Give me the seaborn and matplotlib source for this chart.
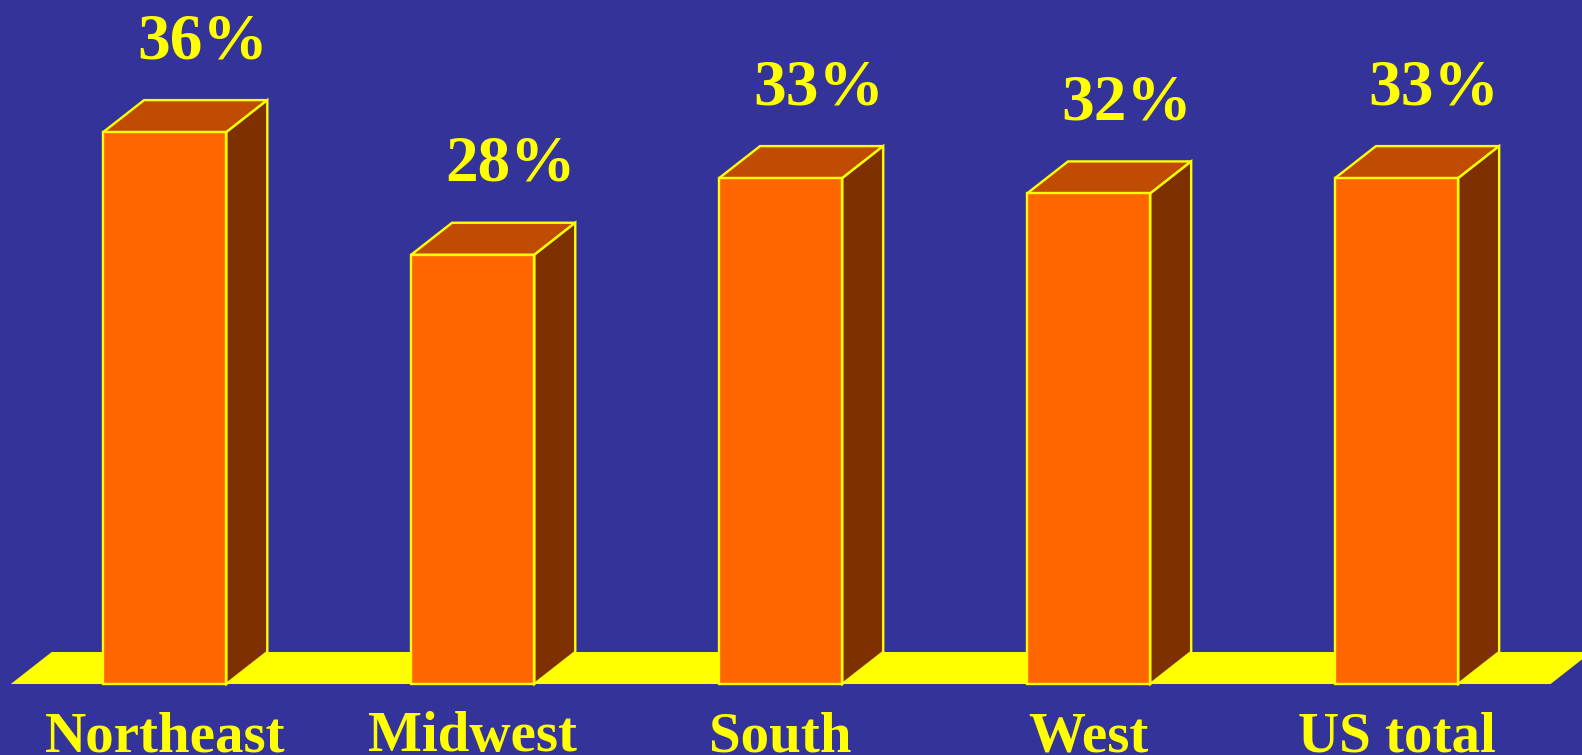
import numpy as np
import pandas as pd
import matplotlib
matplotlib.use("Agg")
import matplotlib.pyplot as plt
from matplotlib.patches import Polygon
import seaborn as sns

# datos
regions = ["Northeast", "Midwest", "South", "West", "US total"]
shares = [36, 28, 33, 32, 33]
share_labels = ["36%", "28%", "33%", "32%", "33%"]

df = pd.DataFrame({"region": regions, "share": shares})

# colores
bg = "#333399"
front = "#FF6600"
top = "#BF4C00"
side = "#7F3000"
yellow = "#FFFF00"

# profundidad del efecto 3D (unidades de datos)
dx = 0.133
dy = 2.09

fig = plt.figure(figsize=(15.82, 7.55), dpi=100, facecolor=bg)
ax = fig.add_axes([0, 0, 1, 1])
ax.set_facecolor(bg)

sns.barplot(data=df, x="region", y="share", width=0.4, color=front,
            saturation=1, edgecolor=yellow, linewidth=1.7, ax=ax, zorder=3)

ax.set_xlim(-0.535, 4.602)
ax.set_ylim(-4.63, 44.62)
ax.axis("off")

# piso amarillo
n = len(regions)
x0, x1 = -0.5, n - 0.5
floor = Polygon([(x0, 0), (x1, 0), (x1 + dx, dy), (x0 + dx, dy)],
                closed=True, facecolor=yellow, edgecolor="none", zorder=1)
ax.add_patch(floor)

# caras superior y lateral
for p, lab in zip(ax.patches[:n], share_labels):
    xl = p.get_x()
    xr = xl + p.get_width()
    h = p.get_height()
    t = Polygon([(xl, h), (xr, h), (xr + dx, h + dy), (xl + dx, h + dy)],
                closed=True, facecolor=top, edgecolor=yellow, linewidth=1.7, zorder=2)
    s = Polygon([(xr, 0), (xr + dx, dy), (xr + dx, h + dy), (xr, h)],
                closed=True, facecolor=side, edgecolor=yellow, linewidth=1.7, zorder=2)
    ax.add_patch(t)
    ax.add_patch(s)
    ax.text(xl + p.get_width() / 2 + 0.122, h + dy + 2.74, lab,
            ha="center", va="baseline", color=yellow, fontsize=47,
            fontweight="bold", family="Liberation Serif", zorder=4)

for i, r in enumerate(regions):
    ax.text(i, -4.40, r, ha="center", va="baseline", color=yellow,
            fontsize=41, fontweight="bold", family="Liberation Serif")

fig.savefig("out.png", dpi=100, facecolor=bg)
